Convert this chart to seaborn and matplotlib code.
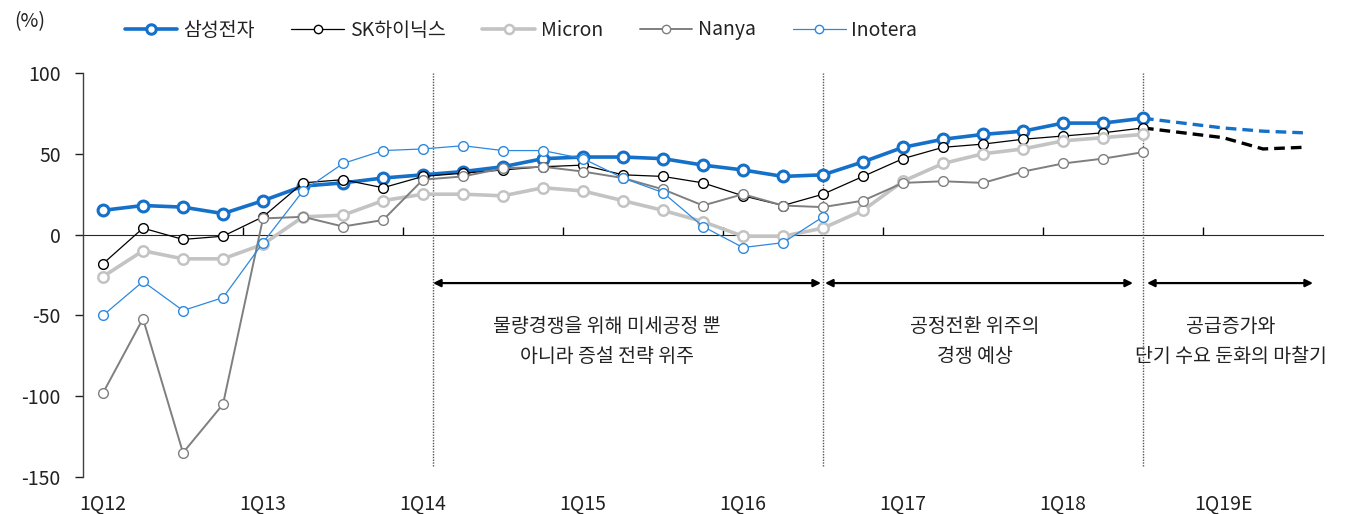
import matplotlib
matplotlib.use("Agg")
import matplotlib.pyplot as plt
import seaborn as sns
import numpy as np
import pandas as pd
from matplotlib.lines import Line2D

# ---------------- data ----------------
quarters = ["1Q12", "2Q12", "3Q12", "4Q12", "1Q13", "2Q13", "3Q13", "4Q13",
            "1Q14", "2Q14", "3Q14", "4Q14", "1Q15", "2Q15", "3Q15", "4Q15",
            "1Q16", "2Q16", "3Q16", "4Q16", "1Q17", "2Q17", "3Q17", "4Q17",
            "1Q18", "2Q18", "3Q18", "4Q18", "1Q19", "2Q19", "3Q19"]
tick_labels = ["1Q12", "1Q13", "1Q14", "1Q15", "1Q16", "1Q17", "1Q18", "1Q19E"]

samsung = [15, 18, 17, 13, 21, 30, 32, 35, 37, 39, 42, 47, 48, 48, 47, 43,
           40, 36, 37, 45, 54, 59, 62, 64, 69, 69, 72]
sk_hynix = [-18, 4, -3, -1, 11, 32, 34, 29, 36, 38, 40, 42, 43, 37, 36, 32,
            24, 18, 25, 36, 47, 54, 56, 59, 61, 63, 66]
micron = [-26, -10, -15, -15, -6, 11, 12, 21, 25, 25, 24, 29, 27, 21, 15, 8,
          -1, -1, 4, 15, 33, 44, 50, 53, 58, 60, 62]
nanya = [-98, -52, -135, -105, 10, 11, 5, 9, 34, 36, 41, 42, 39, 35, 28, 18,
         25, 18, 17, 21, 32, 33, 32, 39, 44, 47, 51]
inotera = [-50, -29, -47, -39, -5, 27, 44, 52, 53, 55, 52, 52, 47, 35, 26, 5,
           -8, -5, 11]

forecast_q = ["3Q18", "4Q18", "1Q19", "2Q19", "3Q19"]
samsung_fc = [72, 69, 66, 64, 63]
sk_hynix_fc = [66, 63, 60, 53, 54]

series_names = ["삼성전자", "SK하이닉스", "Micron", "Nanya", "Inotera"]
series_vals = [samsung, sk_hynix, micron, nanya, inotera]

phase_texts = ["물량경쟁을 위해 미세공정 뿐\n아니라 증설 전략 위주",
               "공정전환 위주의\n경쟁 예상",
               "공급증가와\n단기 수요 둔화의 마찰기"]

# ---------------- style ----------------
sns.set_style("white")
plt.rcParams["font.family"] = ["Noto Sans CJK KR", "DejaVu Sans"]
plt.rcParams["axes.unicode_minus"] = False

styles = {
    "삼성전자": dict(color="#1470C8", lw=2.6, ms=7.8, mew=2.2, z=3),
    "SK하이닉스": dict(color="#000000", lw=0.9, ms=7, mew=1.0, z=4),
    "Micron": dict(color="#C3C3C3", lw=2.6, ms=7.5, mew=1.8, z=5),
    "Nanya": dict(color="#7F7F7F", lw=1.4, ms=7, mew=1.0, z=6),
    "Inotera": dict(color="#2E88DD", lw=0.9, ms=7, mew=1.0, z=7),
}

fig = plt.figure(figsize=(13.61, 5.14), dpi=100)
ax = fig.add_axes([83 / 1361, 1 - 477 / 514, (1323 - 83) / 1361, (477 - 73) / 514])

pos = {q: i for i, q in enumerate(quarters)}

for name, vals in zip(series_names, series_vals):
    st = styles[name]
    df = pd.DataFrame({"x": [pos[q] for q in quarters[:len(vals)]], "y": vals})
    sns.lineplot(data=df, x="x", y="y", ax=ax, color=st["color"], lw=st["lw"],
                 marker="o", markersize=st["ms"], markerfacecolor="white",
                 markeredgecolor=st["color"], markeredgewidth=st["mew"],
                 zorder=st["z"], legend=False)

fc_x = [pos[q] for q in forecast_q]
sns.lineplot(x=fc_x, y=samsung_fc, ax=ax, color="#1470C8", lw=2.4,
             linestyle=(0, (3.2, 1.8)), zorder=2, legend=False)
sns.lineplot(x=fc_x, y=sk_hynix_fc, ax=ax, color="#000000", lw=2.4,
             linestyle=(0, (3.2, 1.8)), zorder=2, legend=False)

# axes
ax.set_xlim(-0.5, len(quarters) - 0.5)
ax.set_ylim(-150, 100)
ax.set_yticks([100, 50, 0, -50, -100, -150])
ax.set_yticklabels(["100", "50", "0", "-50", "-100", "-150"])
ax.set_xticks([pos[q] for q in quarters[::4]])
ax.set_xticklabels(tick_labels)
ax.tick_params(axis="x", length=0, pad=12, labelsize=14, colors="#222222")
ax.tick_params(axis="y", length=6, width=1, direction="out", pad=10,
               labelsize=14, colors="#222222", left=True)
ax.set_xlabel("")
ax.set_ylabel("")
for s in ["top", "right", "bottom"]:
    ax.spines[s].set_visible(False)
ax.spines["left"].set_color("#404040")
ax.spines["left"].set_linewidth(1.0)

# x axis line at zero with boundary ticks
sec = ax.secondary_xaxis(150 / 250)
sec.set_xticks([pos[q] - 0.5 for q in quarters[4::4]])
sec.set_xticklabels([])
sec.tick_params(length=6, width=1, direction="out", color="#000000")
sec.spines["bottom"].set_color("#000000")
sec.spines["bottom"].set_linewidth(1.0)

# vertical dotted separators
for xv in [pos["1Q14"] + 0.25, pos["3Q16"], pos["3Q18"]]:
    ax.plot([xv, xv], [-143, 100], color="#555555", lw=1.0,
            linestyle=(0, (1, 1)), zorder=1)

# phase arrows
arrow_spans = [(pos["1Q14"] + 0.25, pos["3Q16"] - 0.05),
               (pos["3Q16"] + 0.05, pos["3Q18"] - 0.25),
               (pos["3Q18"] + 0.1, pos["3Q19"] + 0.25)]
for (x0, x1) in arrow_spans:
    ax.annotate("", xy=(x1, -30), xytext=(x0, -30),
                arrowprops=dict(arrowstyle="<|-|>", color="black", lw=1.6,
                                mutation_scale=11, shrinkA=0, shrinkB=0))

text_x = [12.6, 21.8, 28.2]
for tx, t in zip(text_x, phase_texts):
    ax.text(tx, -66, t, ha="center", va="center", fontsize=14,
            color="#222222", linespacing=1.55)

# legend
handles = []
for name in series_names:
    st = styles[name]
    handles.append(Line2D([], [], color=st["color"], lw=st["lw"], marker="o",
                          markersize=st["ms"] - 1, markerfacecolor="white",
                          markeredgecolor=st["color"],
                          markeredgewidth=st["mew"]))
fig.legend(handles, series_names, loc="center", ncol=5,
           bbox_to_anchor=(521 / 1361, 1 - 30 / 514), frameon=False,
           fontsize=14, handlelength=2.7, handletextpad=0.3,
           columnspacing=1.9, labelcolor="#222222")

fig.text(14 / 1361, 1 - 22 / 514, "(%)", fontsize=14, color="#222222",
         va="center", ha="left")

fig.savefig("out.png", dpi=100)
